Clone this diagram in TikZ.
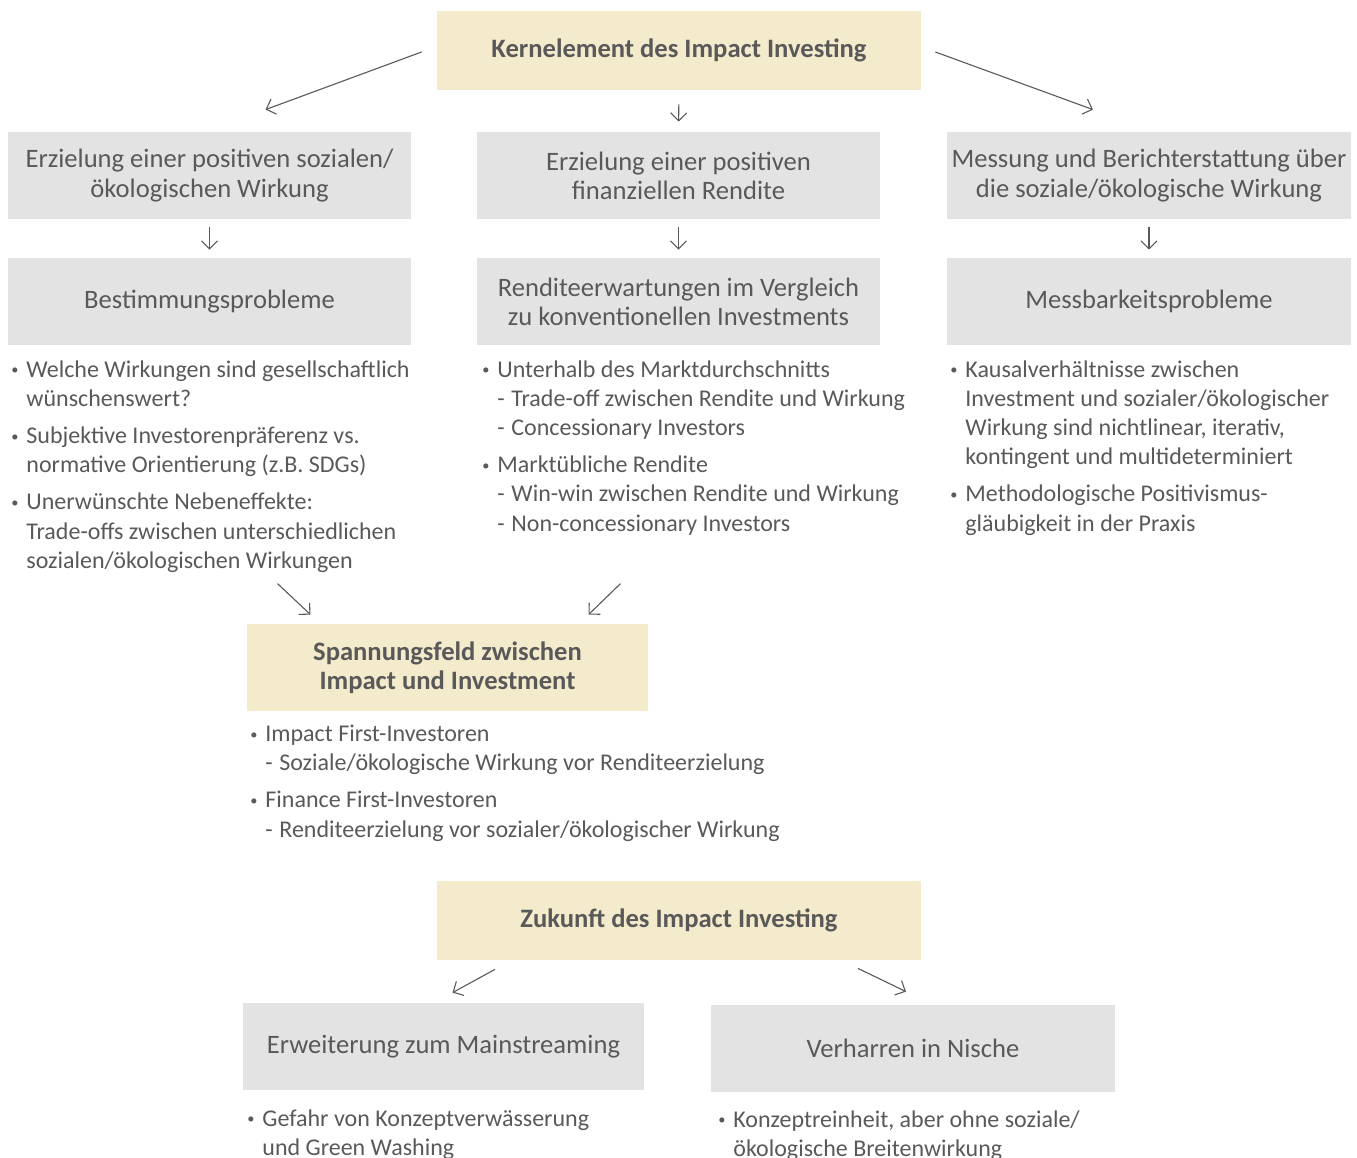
\documentclass[tikz,border=0pt]{standalone}
\usepackage{fontspec}
\setmainfont{Carlito}
\usepackage{tikz}
\usetikzlibrary{positioning,arrows.meta,calc}
\definecolor{txt}{HTML}{595959}
\definecolor{sand}{HTML}{F4EBCD}
\definecolor{grau}{HTML}{E3E3E3}
\newcommand{\bl}{\makebox[7.5pt][l]{\raisebox{0.2ex}{\scalebox{0.6}{\textbullet}}}}
\newcommand{\ind}{\hspace*{7.5pt}}
\newcommand{\sub}{\hspace*{7.5pt}\makebox[7pt][l]{-}}

\begin{document}
\begin{tikzpicture}[x=0.5pt, y=-0.5pt,
  box/.style={fill=grau, text=txt, align=center, inner sep=0pt,
              minimum width=201.5pt, minimum height=43.5pt,
              font=\fontsize{13.3pt}{14.6pt}\selectfont},
  head/.style={box, fill=sand, font=\fontsize{13.3pt}{14.6pt}\selectfont\bfseries},
  lst/.style={text=txt, align=left, anchor=north west, inner sep=0pt,
              font=\fontsize{12pt}{14.6pt}\selectfont},
  arr/.style={-{Straight Barb[length=4pt, width=8pt]}, draw=txt, line width=0.55pt}
]
\useasboundingbox (0,0) rectangle (1357,1158);
% top
\node[head, minimum width=242pt, minimum height=39.5pt] (kern) at (679,50.5) {Kernelement des Impact Investing};
\node[box] (wirk) at (209.5,175.5) {Erzielung einer positiven sozialen/\\ökologischen Wirkung};
\node[box] (rend) at (678.5,175.5) {Erzielung einer positiven\\finanziellen Rendite};
\node[box, minimum width=202pt] (mess) at (1149,175.5) {Messung und Berichterstattung über\\die soziale/ökologische Wirkung};
\node[box] (best) at (209.5,301.5) {Bestimmungsprobleme};
\node[box] (erw) at (678.5,301.5) {Renditeerwartungen im Vergleich\\zu konventionellen Investments};
\node[box, minimum width=202pt] (messp) at (1149,301.5) {Messbarkeitsprobleme};

% lists
\node[lst] (lbest) at (11,360) {\bl Welche Wirkungen sind gesellschaftlich\\
\ind wünschenswert?\\[4pt]
\bl Subjektive Investorenpräferenz vs.\\
\ind normative Orientierung (z.B. SDGs)\\[4pt]
\bl Unerwünschte Nebeneffekte:\\
\ind Trade-offs zwischen unterschiedlichen\\
\ind sozialen/ökologischen Wirkungen};
\node[lst] (lerw) at (482,360) {\bl Unterhalb des Marktdurchschnitts\\
\sub Trade-off zwischen Rendite und Wirkung\\
\sub Concessionary Investors\\[4pt]
\bl Marktübliche Rendite\\
\sub Win-win zwischen Rendite und Wirkung\\
\sub Non-concessionary Investors};
\node[lst] (lmess) at (950,360) {\bl Kausalverhältnisse zwischen\\
\ind Investment und sozialer/ökologischer\\
\ind Wirkung sind nichtlinear, iterativ,\\
\ind kontingent und multideterminiert\\[4pt]
\bl Methodologische Positivismus-\\
\ind gläubigkeit in der Praxis};

% middle
\node[head, minimum width=200.5pt] (spann) at (447.5,667.5) {Spannungsfeld zwischen\\Impact und Investment};
\node[lst] (lspann) at (250,724.5) {\bl Impact First-Investoren\\
\sub Soziale/ökologische Wirkung vor Renditeerzielung\\[4pt]
\bl Finance First-Investoren\\
\sub Renditeerzielung vor sozialer/ökologischer Wirkung};

% bottom
\node[head, minimum width=242pt, minimum height=39.5pt] (zuk) at (679,920.5) {Zukunft des Impact Investing};
\node[box, minimum width=200.5pt] (main) at (443.5,1046.5) {Erweiterung zum Mainstreaming};
\node[box, minimum width=202pt] (nische) at (913,1048.5) {Verharren in Nische};
\node[lst] (lmain) at (247,1109) {\bl Gefahr von Konzeptverwässerung\\
\ind und Green Washing};
\node[lst] (lnische) at (718,1110) {\bl Konzeptreinheit, aber ohne soziale/\\
\ind ökologische Breitenwirkung};

% arrows
\draw[arr] ($(kern.west)+(-15,1.5)$) -- ($(wirk.north)+(56,-22)$);
\draw[arr] ($(kern.east)+(14,1.5)$) -- ($(mess.north)+(-56,-22)$);
\draw[arr, shorten <=7pt, shorten >=5pt] (kern.south) -- (rend.north);
\draw[arr, shorten <=4pt, shorten >=4pt] (wirk.south) -- (best.north);
\draw[arr, shorten <=4pt, shorten >=4pt] (rend.south) -- (erw.north);
\draw[arr, shorten <=4pt, shorten >=4pt] (mess.south) -- (messp.north);
\draw[arr] ($(spann.north)+(-170,-40)$) -- ($(spann.north)+(-137,-9)$);
\draw[arr] ($(spann.north)+(173,-40)$) -- ($(spann.north)+(141,-9)$);
\draw[arr] ($(zuk.south)+(-184,9)$) -- ($(main.north)+(9,-10)$);
\draw[arr] ($(zuk.south)+(179,8)$) -- ($(nische.north)+(-7,-13)$);
\end{tikzpicture}
\end{document}
